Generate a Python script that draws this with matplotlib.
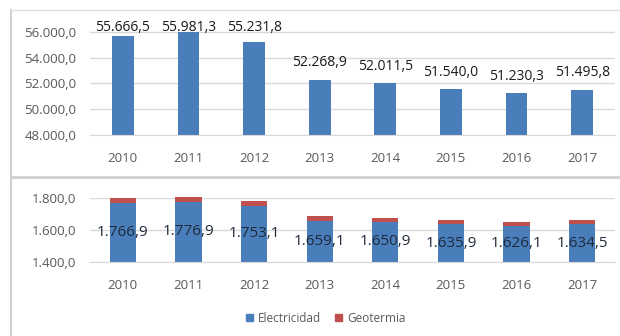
import matplotlib
matplotlib.use("Agg")
import matplotlib.pyplot as plt
from matplotlib.lines import Line2D
from matplotlib.patches import Patch

plt.rcParams['font.family'] = ['Open Sans', 'DejaVu Sans']

years = ['2010', '2011', '2012', '2013', '2014', '2015', '2016', '2017']
total_top = [55666.5, 55981.3, 55231.8, 52268.9, 52011.5, 51540.0, 51230.3, 51495.8]
electricidad = [1766.9, 1776.9, 1753.1, 1659.1, 1650.9, 1635.9, 1626.1, 1634.5]
geotermia = [30, 29, 26, 27, 26, 28, 27, 28]

blue = '#4a7ebb'
red = '#c0504d'
grid_c = '#d9d9d9'
tick_c = '#595959'


def fmt(v):
    s = f"{v:,.1f}"
    return s.replace(',', 'X').replace('.', ',').replace('X', '.')


W, H = 620, 336
fig = plt.figure(figsize=(W / 100, H / 100), dpi=100)


def px_axes(x0, y_top, x1, y_bot):
    return fig.add_axes([x0 / W, 1 - y_bot / H, (x1 - x0) / W, (y_bot - y_top) / H])


x = list(range(len(years)))

# upper chart
ax1 = px_axes(90, 10, 615, 135)
ax1.bar(x, total_top, width=0.33, color=blue, zorder=2)
ax1.set_ylim(48000, 57700)
ax1.set_xlim(-0.5, len(years) - 0.5)
ax1.set_yticks([48000, 50000, 52000, 54000, 56000])
ax1.set_yticklabels([fmt(v) for v in [48000, 50000, 52000, 54000, 56000]])
for i, v in enumerate(total_top):
    ax1.text(i, min(v + 1320, 56310), fmt(v), ha='center', va='center',
             fontsize=10, color='#1a1a1a')

# lower chart
ax2 = px_axes(90, 198, 615, 262)
ax2.bar(x, electricidad, width=0.4, color=blue, zorder=2, label='Electricidad')
ax2.bar(x, geotermia, width=0.4, bottom=electricidad, color=red, zorder=2,
        label='Geotermia', clip_on=False)
ax2.set_ylim(1400, 1800)
ax2.set_xlim(-0.5, len(years) - 0.5)
ax2.set_yticks([1400, 1600, 1800])
ax2.set_yticklabels([fmt(v) for v in [1400, 1600, 1800]])
for i, v in enumerate(electricidad):
    ax2.text(i, (1400 + v) / 2, fmt(v), ha='center', va='center',
             fontsize=11, color='#1f2a3c', zorder=3)

for ax in (ax1, ax2):
    ax.set_xticks(x)
    ax.set_xticklabels(years)
    for s in ['top', 'right', 'left']:
        ax.spines[s].set_visible(False)
    ax.spines['bottom'].set_color(grid_c)
    ax.grid(axis='y', color=grid_c, linewidth=1, zorder=0)
    ax.tick_params(axis='both', length=0, colors=tick_c, labelsize=9.5)
    ax.tick_params(axis='y', pad=10)
    ax.tick_params(axis='x', pad=12)
    ax.set_axisbelow(True)

# panel borders
fig.add_artist(Line2D([11 / W, 11 / W], [0, 1 - 10 / H], color='#d0d0d0', lw=1.5))
fig.add_artist(Line2D([11 / W, 1], [1 - 10 / H, 1 - 10 / H], color='#e0e0e0', lw=1))
fig.add_artist(Line2D([11 / W, 1], [1 - 177 / H, 1 - 177 / H], color='#cfcfcf', lw=2))

handles = [Patch(color=blue, label='Electricidad'), Patch(color=red, label='Geotermia')]
fig.legend(handles=handles, loc='center', bbox_to_anchor=(326 / W, 1 - 318 / H),
           ncol=2, frameon=False, fontsize=8.5, labelcolor=tick_c,
           handlelength=0.6, handleheight=0.6, handletextpad=0.4, columnspacing=1.2)

fig.savefig('out.png', dpi=100)
